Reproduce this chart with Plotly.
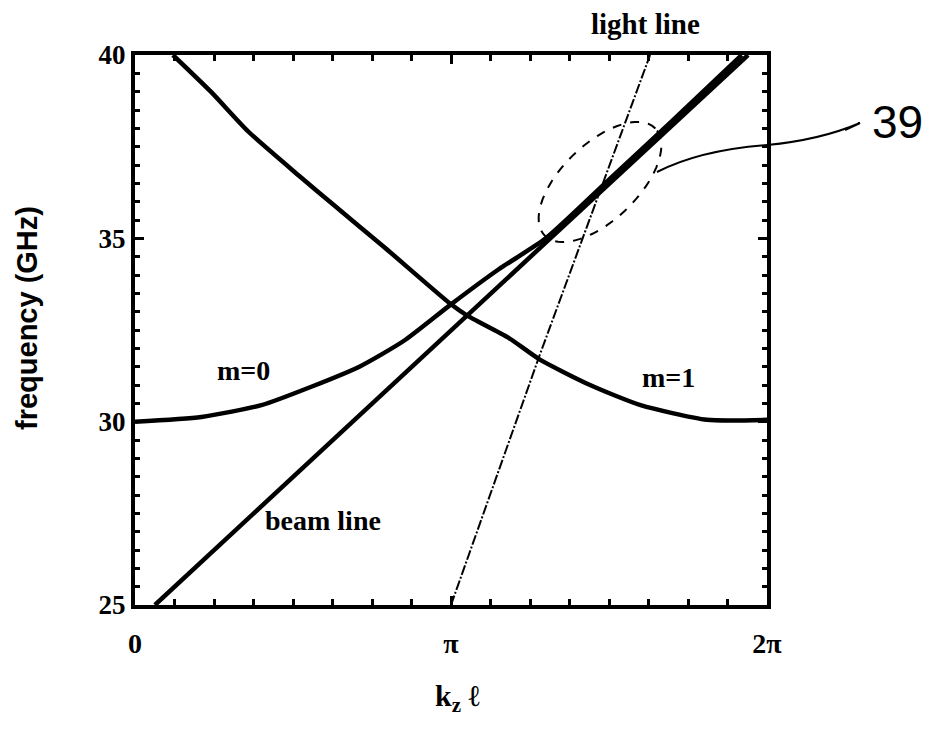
import numpy as np
import plotly.graph_objects as go

PI = np.pi

# dispersion curves, k_z*l given in units of pi, frequency in GHz
m0_k = [0.0, 0.21, 0.40, 0.56, 0.71, 0.85, 1.0, 1.15, 1.30, 1.50, 1.70, 1.92]
m0_f = [30.0, 30.13, 30.45, 30.96, 31.5, 32.2, 33.2, 34.15, 35.0, 36.6, 38.2, 40.0]

m1_k = [0.12, 0.24, 0.36, 0.52, 0.63, 0.79, 1.0, 1.05, 1.18, 1.28, 1.44, 1.60, 1.81, 2.0]
m1_f = [40.0, 39.0, 37.9, 36.7, 35.9, 34.75, 33.2, 32.9, 32.3, 31.7, 31.0, 30.45, 30.05, 30.05]

beam_k = [0.063, 1.94]
beam_f = [25.0, 40.0]

light_k = [1.0, 1.28, 1.63]
light_f = [25.0, 31.8, 40.0]

x_tickvals = [0, 1.0, 2.0]
x_ticktext = ["0", "\u03c0", "2\u03c0"]
y_tickvals = [25, 30, 35, 40]

SERIF = "Liberation Serif"
SANS = "Liberation Sans"

# figure size and plot box (figure pixels); the page body adds an 8px offset
W, H = 915, 714
L, R, T, B = 127, 759, 47, 597
OFF = 8


def px(xs):
    # screen x pixel -> paper fraction
    return (xs - OFF - L) / (R - L)


def py(ys):
    return (B - (ys - OFF)) / (B - T)


def note(xs, ys, text, font, **kw):
    fig.add_annotation(xref="paper", yref="paper", x=px(xs), y=py(ys), text=text,
                       showarrow=False, xanchor="center", yanchor="middle",
                       font=font, **kw)


fig = go.Figure()

fig.add_trace(go.Scatter(
    x=[k * PI for k in m0_k], y=m0_f, mode="lines",
    line=dict(color="black", width=4.5, shape="spline", smoothing=0.6),
))
fig.add_trace(go.Scatter(
    x=[k * PI for k in m1_k], y=m1_f, mode="lines",
    line=dict(color="black", width=4.5, shape="spline", smoothing=0.6),
))
fig.add_trace(go.Scatter(
    x=[k * PI for k in beam_k], y=beam_f, mode="lines",
    line=dict(color="black", width=4.5),
))
fig.add_trace(go.Scatter(
    x=[k * PI for k in light_k], y=light_f, mode="lines",
    line=dict(color="black", width=2, dash="10px,2px,2px,2px"),
))

# curve labels
labels = [("m=0", 0.342, 31.4), ("m=1", 1.687, 31.2), ("beam line", 0.595, 27.3)]
for txt, k, f in labels:
    fig.add_annotation(x=k * PI, y=f, text=txt, showarrow=False,
                       xanchor="center", yanchor="middle",
                       font=dict(family=SERIF, size=28, color="black", weight="bold"))

note(645, 24, "light line", dict(family=SERIF, size=29, color="black", weight="bold"))

# axis titles
note(457, 698, "k<sub>z</sub> \u2113", dict(family=SERIF, size=30, color="black", weight="bold"))
note(27, 318, "frequency (GHz)", dict(family=SANS, size=29, color="black", weight="bold"),
     textangle=-90)

# hand-drawn callout: dashed ellipse, leader line and reference numeral
t = np.linspace(0, 2 * np.pi, 60)
cx, cy, a, b, ang = 600, 182, 77, 38, np.radians(44)
ex = cx + a * np.cos(t) * np.cos(ang) - b * np.sin(t) * np.sin(ang)
ey = cy - (a * np.cos(t) * np.sin(ang) + b * np.sin(t) * np.cos(ang))
path = "M " + " L ".join(f"{px(x):.4f},{py(y):.4f}" for x, y in zip(ex, ey)) + " Z"
fig.add_shape(type="path", xref="paper", yref="paper", path=path,
              line=dict(color="black", width=2, dash="dash"))

lead = (f"M {px(657):.4f},{py(172):.4f} Q {px(700):.4f},{py(150):.4f} {px(767):.4f},{py(145):.4f} "
        f"Q {px(820):.4f},{py(140):.4f} {px(860):.4f},{py(123):.4f} L {px(845):.4f},{py(130):.4f}")
fig.add_shape(type="path", xref="paper", yref="paper", path=lead,
              line=dict(color="black", width=2))

note(897, 122, "39", dict(family=SANS, size=46, color="black"))

fig.update_xaxes(
    range=[0, 2 * PI], showgrid=False, zeroline=False,
    showline=True, linewidth=4, linecolor="black", mirror="allticks",
    ticks="inside", ticklen=9, tickwidth=3, tickcolor="black",
    tickvals=[v * PI for v in x_tickvals], ticktext=x_ticktext,
    tickfont=dict(family=SERIF, size=28, color="black", weight="bold"),
    ticklabelstandoff=10,
    minor=dict(dtick=PI / 8, tick0=0, ticks="inside", ticklen=6,
               tickwidth=3, tickcolor="black", showgrid=False),
)
fig.update_yaxes(
    range=[25, 40], showgrid=False, zeroline=False,
    showline=True, linewidth=4, linecolor="black", mirror="allticks",
    ticks="inside", ticklen=9, tickwidth=3, tickcolor="black",
    tickvals=y_tickvals,
    tickfont=dict(family=SERIF, size=27, color="black", weight="bold"),
    ticklabelstandoff=0,
    minor=dict(dtick=0.5, tick0=25, ticks="inside", ticklen=5,
               tickwidth=3, tickcolor="black", showgrid=False),
)

fig.update_layout(
    width=W, height=H, autosize=False,
    margin=dict(l=L, r=W - R, t=T, b=H - B),
    showlegend=False,
    plot_bgcolor="white", paper_bgcolor="white",
)

fig.write_html("out.html")
